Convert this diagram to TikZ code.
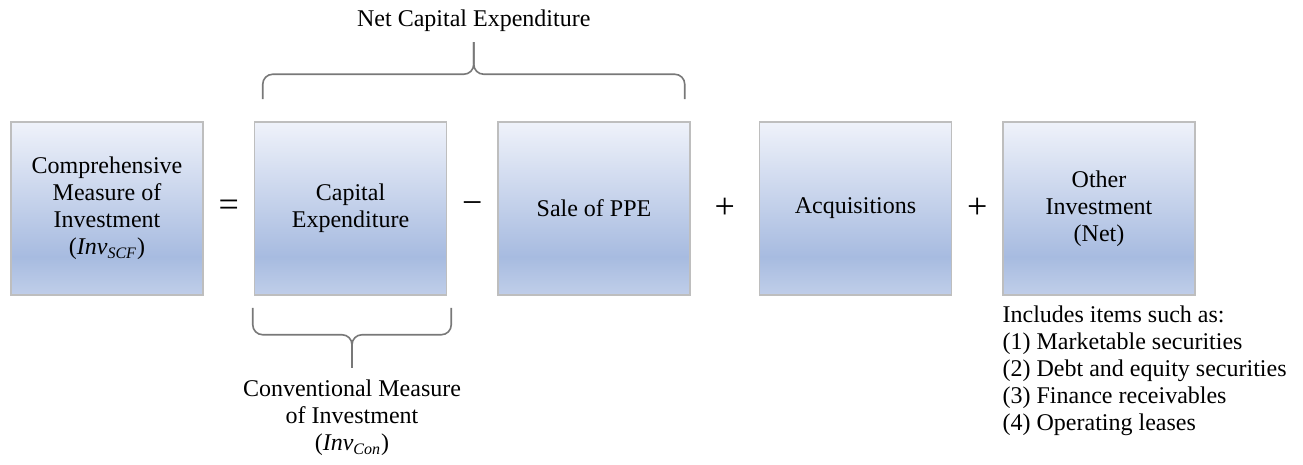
\documentclass[tikz,border=0pt]{standalone}
\usepackage{fontspec}
\setmainfont{Liberation Serif}
\usetikzlibrary{calc, positioning}
\definecolor{boxtop}{RGB}{239,242,250}
\definecolor{boxdark}{RGB}{167,187,224}
\definecolor{boxbot}{RGB}{192,206,233}
\definecolor{boxedge}{RGB}{190,190,190}
\definecolor{bracegray}{RGB}{120,120,120}
\pgfdeclareverticalshading{boxshade}{100bp}{color(0bp)=(boxbot); color(25bp)=(boxbot); color(36bp)=(boxdark); color(75bp)=(boxtop); color(100bp)=(boxtop)}
\tikzstyle{block} = [rectangle, draw=boxedge, line width=0.75pt, shade, shading=boxshade, minimum width=96pt, minimum height=86.5pt, text centered, align=center, inner sep=2pt]
\tikzstyle{op} = [font=\fontsize{18}{18}\selectfont, inner sep=0pt]
\tikzstyle{braceline} = [draw=bracegray, line width=0.8pt]
\begin{document}
\begin{tikzpicture}[font=\fontsize{12}{13.5}\selectfont]
\useasboundingbox (0,0) rectangle (651.5pt,-232.5pt);
\node [block] (total) at (53.5pt,-104.25pt) {Comprehensive\\Measure of\\Investment\\(\textit{Inv}\textsubscript{\textit{SCF}})};
\node [block, right=25pt of total] (capex) {Capital\\Expenditure};
\node [block, right=25pt of capex] (sale) {Sale of PPE};
\node [block, right=34pt of sale] (acq) {Acquisitions};
\node [block, right=25pt of acq] (other) {Other\\Investment\\(Net)};
\node [op] (eq) at ($(total.east)!0.5!(capex.west)$) {=};
\node [op] (minus) at ($(capex.east)!0.5!(sale.west)$) {−};
\node [op] (plusa) at ($(sale.east)!0.5!(acq.west)$) {+};
\node [op] (plusb) at ($(acq.east)!0.5!(other.west)$) {+};
% brace over capex and sale
\coordinate (tl) at ($(capex.north west)+(4.5pt,11pt)$);
\coordinate (tr) at ($(sale.north east)+(-3pt,11pt)$);
\coordinate (tm) at ($(tl)!0.5!(tr)+(0,28.5pt)$);
\draw [braceline] (tl) -- ++(0,7.5pt) to[out=90,in=180] ++(5pt,5pt) -- ($(tm)+(-5pt,-16pt)$) to[out=0,in=-90] ($(tm)+(0,-11pt)$) -- (tm);
\draw [braceline] (tr) -- ++(0,7.5pt) to[out=90,in=0] ++(-5pt,5pt) -- ($(tm)+(5pt,-16pt)$) to[out=180,in=-90] ($(tm)+(0,-11pt)$) -- (tm);
\node [above=2pt of tm] (netcap) {Net Capital Expenditure};
% brace under capex
\coordinate (bl) at ($(capex.south west)+(-0.5pt,-6pt)$);
\coordinate (br) at ($(capex.south east)+(2pt,-6pt)$);
\coordinate (bm) at ($(bl)!0.5!(br)+(0,-30pt)$);
\draw [braceline] (bl) -- ++(0,-8.5pt) to[out=-90,in=180] ++(5pt,-5pt) -- ($(bm)+(-5pt,16.5pt)$) to[out=0,in=90] ($(bm)+(0,11.5pt)$) -- (bm);
\draw [braceline] (br) -- ++(0,-8.5pt) to[out=-90,in=0] ++(-5pt,-5pt) -- ($(bm)+(5pt,16.5pt)$) to[out=180,in=90] ($(bm)+(0,11.5pt)$) -- (bm);
\node [below=2.5pt of bm, align=center] (conv) {Conventional Measure\\of Investment\\(\textit{Inv}\textsubscript{\textit{Con}})};
\node [below right=5pt and 0pt of other.south west, align=left, inner sep=0pt] (items) {Includes items such as:\\(1) Marketable securities\\(2) Debt and equity securities\\(3) Finance receivables\\(4) Operating leases};
\end{tikzpicture}
\end{document}
